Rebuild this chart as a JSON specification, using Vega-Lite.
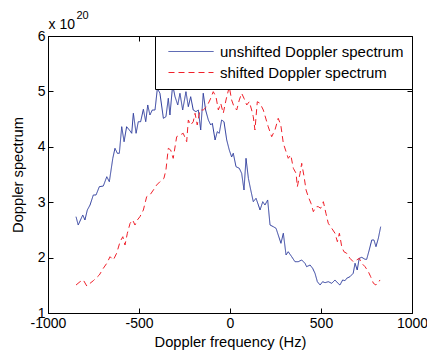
{
  "$schema": "https://vega.github.io/schema/vega-lite/v6.json",
  "width": 364,
  "height": 277,
  "autosize": "none",
  "padding": {"left": 48, "top": 36, "right": 15, "bottom": 43},
  "background": "white",
  "data": {
    "values": [
      {"f": -846, "v": 2.738, "s": "unshifted Doppler spectrum"},
      {"f": -834, "v": 2.588, "s": "unshifted Doppler spectrum"},
      {"f": -809, "v": 2.769, "s": "unshifted Doppler spectrum"},
      {"f": -797, "v": 2.679, "s": "unshifted Doppler spectrum"},
      {"f": -784, "v": 2.859, "s": "unshifted Doppler spectrum"},
      {"f": -769, "v": 2.949, "s": "unshifted Doppler spectrum"},
      {"f": -751, "v": 3.130, "s": "unshifted Doppler spectrum"},
      {"f": -736, "v": 3.130, "s": "unshifted Doppler spectrum"},
      {"f": -718, "v": 3.280, "s": "unshifted Doppler spectrum"},
      {"f": -696, "v": 3.292, "s": "unshifted Doppler spectrum"},
      {"f": -677, "v": 3.460, "s": "unshifted Doppler spectrum"},
      {"f": -663, "v": 3.370, "s": "unshifted Doppler spectrum"},
      {"f": -644, "v": 3.792, "s": "unshifted Doppler spectrum"},
      {"f": -632, "v": 3.973, "s": "unshifted Doppler spectrum"},
      {"f": -619, "v": 3.883, "s": "unshifted Doppler spectrum"},
      {"f": -608, "v": 3.883, "s": "unshifted Doppler spectrum"},
      {"f": -595, "v": 4.363, "s": "unshifted Doppler spectrum"},
      {"f": -582, "v": 4.092, "s": "unshifted Doppler spectrum"},
      {"f": -568, "v": 4.363, "s": "unshifted Doppler spectrum"},
      {"f": -553, "v": 4.303, "s": "unshifted Doppler spectrum"},
      {"f": -540, "v": 4.244, "s": "unshifted Doppler spectrum"},
      {"f": -531, "v": 4.605, "s": "unshifted Doppler spectrum"},
      {"f": -516, "v": 4.244, "s": "unshifted Doppler spectrum"},
      {"f": -504, "v": 4.453, "s": "unshifted Doppler spectrum"},
      {"f": -491, "v": 4.453, "s": "unshifted Doppler spectrum"},
      {"f": -476, "v": 4.677, "s": "unshifted Doppler spectrum"},
      {"f": -463, "v": 4.453, "s": "unshifted Doppler spectrum"},
      {"f": -452, "v": 4.755, "s": "unshifted Doppler spectrum"},
      {"f": -440, "v": 4.574, "s": "unshifted Doppler spectrum"},
      {"f": -427, "v": 4.664, "s": "unshifted Doppler spectrum"},
      {"f": -412, "v": 4.664, "s": "unshifted Doppler spectrum"},
      {"f": -399, "v": 5.056, "s": "unshifted Doppler spectrum"},
      {"f": -385, "v": 4.966, "s": "unshifted Doppler spectrum"},
      {"f": -366, "v": 4.514, "s": "unshifted Doppler spectrum"},
      {"f": -352, "v": 4.543, "s": "unshifted Doppler spectrum"},
      {"f": -339, "v": 4.875, "s": "unshifted Doppler spectrum"},
      {"f": -330, "v": 4.574, "s": "unshifted Doppler spectrum"},
      {"f": -315, "v": 5.116, "s": "unshifted Doppler spectrum"},
      {"f": -302, "v": 4.904, "s": "unshifted Doppler spectrum"},
      {"f": -287, "v": 4.755, "s": "unshifted Doppler spectrum"},
      {"f": -275, "v": 4.966, "s": "unshifted Doppler spectrum"},
      {"f": -260, "v": 4.664, "s": "unshifted Doppler spectrum"},
      {"f": -242, "v": 4.995, "s": "unshifted Doppler spectrum"},
      {"f": -229, "v": 4.724, "s": "unshifted Doppler spectrum"},
      {"f": -216, "v": 4.904, "s": "unshifted Doppler spectrum"},
      {"f": -202, "v": 4.664, "s": "unshifted Doppler spectrum"},
      {"f": -187, "v": 4.634, "s": "unshifted Doppler spectrum"},
      {"f": -174, "v": 4.664, "s": "unshifted Doppler spectrum"},
      {"f": -161, "v": 4.303, "s": "unshifted Doppler spectrum"},
      {"f": -147, "v": 4.966, "s": "unshifted Doppler spectrum"},
      {"f": -134, "v": 4.664, "s": "unshifted Doppler spectrum"},
      {"f": -119, "v": 4.484, "s": "unshifted Doppler spectrum"},
      {"f": -106, "v": 4.394, "s": "unshifted Doppler spectrum"},
      {"f": -97, "v": 4.424, "s": "unshifted Doppler spectrum"},
      {"f": -82, "v": 4.123, "s": "unshifted Doppler spectrum"},
      {"f": -70, "v": 4.273, "s": "unshifted Doppler spectrum"},
      {"f": -59, "v": 4.244, "s": "unshifted Doppler spectrum"},
      {"f": -46, "v": 4.484, "s": "unshifted Doppler spectrum"},
      {"f": -33, "v": 4.453, "s": "unshifted Doppler spectrum"},
      {"f": -18, "v": 4.123, "s": "unshifted Doppler spectrum"},
      {"f": -4, "v": 3.942, "s": "unshifted Doppler spectrum"},
      {"f": 9, "v": 3.816, "s": "unshifted Doppler spectrum"},
      {"f": 18, "v": 3.883, "s": "unshifted Doppler spectrum"},
      {"f": 33, "v": 3.641, "s": "unshifted Doppler spectrum"},
      {"f": 51, "v": 3.612, "s": "unshifted Doppler spectrum"},
      {"f": 64, "v": 3.522, "s": "unshifted Doppler spectrum"},
      {"f": 77, "v": 3.220, "s": "unshifted Doppler spectrum"},
      {"f": 88, "v": 3.792, "s": "unshifted Doppler spectrum"},
      {"f": 101, "v": 3.431, "s": "unshifted Doppler spectrum"},
      {"f": 114, "v": 3.220, "s": "unshifted Doppler spectrum"},
      {"f": 128, "v": 3.009, "s": "unshifted Doppler spectrum"},
      {"f": 143, "v": 3.070, "s": "unshifted Doppler spectrum"},
      {"f": 156, "v": 2.949, "s": "unshifted Doppler spectrum"},
      {"f": 165, "v": 2.859, "s": "unshifted Doppler spectrum"},
      {"f": 180, "v": 3.009, "s": "unshifted Doppler spectrum"},
      {"f": 192, "v": 2.949, "s": "unshifted Doppler spectrum"},
      {"f": 207, "v": 3.040, "s": "unshifted Doppler spectrum"},
      {"f": 220, "v": 2.588, "s": "unshifted Doppler spectrum"},
      {"f": 238, "v": 2.558, "s": "unshifted Doppler spectrum"},
      {"f": 253, "v": 2.529, "s": "unshifted Doppler spectrum"},
      {"f": 265, "v": 2.408, "s": "unshifted Doppler spectrum"},
      {"f": 280, "v": 2.258, "s": "unshifted Doppler spectrum"},
      {"f": 293, "v": 2.439, "s": "unshifted Doppler spectrum"},
      {"f": 308, "v": 2.047, "s": "unshifted Doppler spectrum"},
      {"f": 320, "v": 2.106, "s": "unshifted Doppler spectrum"},
      {"f": 339, "v": 2.016, "s": "unshifted Doppler spectrum"},
      {"f": 357, "v": 1.926, "s": "unshifted Doppler spectrum"},
      {"f": 375, "v": 1.926, "s": "unshifted Doppler spectrum"},
      {"f": 394, "v": 1.957, "s": "unshifted Doppler spectrum"},
      {"f": 412, "v": 1.897, "s": "unshifted Doppler spectrum"},
      {"f": 421, "v": 1.836, "s": "unshifted Doppler spectrum"},
      {"f": 440, "v": 1.866, "s": "unshifted Doppler spectrum"},
      {"f": 454, "v": 1.807, "s": "unshifted Doppler spectrum"},
      {"f": 467, "v": 1.717, "s": "unshifted Doppler spectrum"},
      {"f": 480, "v": 1.565, "s": "unshifted Doppler spectrum"},
      {"f": 495, "v": 1.505, "s": "unshifted Doppler spectrum"},
      {"f": 509, "v": 1.565, "s": "unshifted Doppler spectrum"},
      {"f": 522, "v": 1.547, "s": "unshifted Doppler spectrum"},
      {"f": 540, "v": 1.565, "s": "unshifted Doppler spectrum"},
      {"f": 559, "v": 1.536, "s": "unshifted Doppler spectrum"},
      {"f": 577, "v": 1.596, "s": "unshifted Doppler spectrum"},
      {"f": 590, "v": 1.547, "s": "unshifted Doppler spectrum"},
      {"f": 604, "v": 1.505, "s": "unshifted Doppler spectrum"},
      {"f": 619, "v": 1.596, "s": "unshifted Doppler spectrum"},
      {"f": 632, "v": 1.583, "s": "unshifted Doppler spectrum"},
      {"f": 641, "v": 1.626, "s": "unshifted Doppler spectrum"},
      {"f": 659, "v": 1.655, "s": "unshifted Doppler spectrum"},
      {"f": 677, "v": 1.717, "s": "unshifted Doppler spectrum"},
      {"f": 687, "v": 1.897, "s": "unshifted Doppler spectrum"},
      {"f": 699, "v": 1.776, "s": "unshifted Doppler spectrum"},
      {"f": 710, "v": 1.987, "s": "unshifted Doppler spectrum"},
      {"f": 724, "v": 2.005, "s": "unshifted Doppler spectrum"},
      {"f": 742, "v": 1.969, "s": "unshifted Doppler spectrum"},
      {"f": 751, "v": 1.969, "s": "unshifted Doppler spectrum"},
      {"f": 765, "v": 2.137, "s": "unshifted Doppler spectrum"},
      {"f": 779, "v": 2.318, "s": "unshifted Doppler spectrum"},
      {"f": 791, "v": 2.318, "s": "unshifted Doppler spectrum"},
      {"f": 802, "v": 2.197, "s": "unshifted Doppler spectrum"},
      {"f": 815, "v": 2.348, "s": "unshifted Doppler spectrum"},
      {"f": 828, "v": 2.558, "s": "unshifted Doppler spectrum"},

      {"f": -846, "v": 1.505, "s": "shifted Doppler spectrum"},
      {"f": -824, "v": 1.565, "s": "shifted Doppler spectrum"},
      {"f": -806, "v": 1.596, "s": "shifted Doppler spectrum"},
      {"f": -787, "v": 1.487, "s": "shifted Doppler spectrum"},
      {"f": -769, "v": 1.536, "s": "shifted Doppler spectrum"},
      {"f": -751, "v": 1.583, "s": "shifted Doppler spectrum"},
      {"f": -718, "v": 1.686, "s": "shifted Doppler spectrum"},
      {"f": -696, "v": 1.807, "s": "shifted Doppler spectrum"},
      {"f": -677, "v": 1.897, "s": "shifted Doppler spectrum"},
      {"f": -659, "v": 2.016, "s": "shifted Doppler spectrum"},
      {"f": -641, "v": 1.957, "s": "shifted Doppler spectrum"},
      {"f": -623, "v": 2.078, "s": "shifted Doppler spectrum"},
      {"f": -604, "v": 2.287, "s": "shifted Doppler spectrum"},
      {"f": -589, "v": 2.377, "s": "shifted Doppler spectrum"},
      {"f": -577, "v": 2.227, "s": "shifted Doppler spectrum"},
      {"f": -564, "v": 2.439, "s": "shifted Doppler spectrum"},
      {"f": -549, "v": 2.619, "s": "shifted Doppler spectrum"},
      {"f": -535, "v": 2.679, "s": "shifted Doppler spectrum"},
      {"f": -522, "v": 2.588, "s": "shifted Doppler spectrum"},
      {"f": -509, "v": 2.679, "s": "shifted Doppler spectrum"},
      {"f": -495, "v": 2.738, "s": "shifted Doppler spectrum"},
      {"f": -476, "v": 2.859, "s": "shifted Doppler spectrum"},
      {"f": -458, "v": 3.099, "s": "shifted Doppler spectrum"},
      {"f": -440, "v": 3.130, "s": "shifted Doppler spectrum"},
      {"f": -421, "v": 3.220, "s": "shifted Doppler spectrum"},
      {"f": -403, "v": 3.310, "s": "shifted Doppler spectrum"},
      {"f": -385, "v": 3.370, "s": "shifted Doppler spectrum"},
      {"f": -363, "v": 3.431, "s": "shifted Doppler spectrum"},
      {"f": -352, "v": 3.581, "s": "shifted Doppler spectrum"},
      {"f": -339, "v": 3.973, "s": "shifted Doppler spectrum"},
      {"f": -326, "v": 3.942, "s": "shifted Doppler spectrum"},
      {"f": -312, "v": 3.792, "s": "shifted Doppler spectrum"},
      {"f": -293, "v": 4.182, "s": "shifted Doppler spectrum"},
      {"f": -275, "v": 4.213, "s": "shifted Doppler spectrum"},
      {"f": -257, "v": 4.244, "s": "shifted Doppler spectrum"},
      {"f": -238, "v": 4.092, "s": "shifted Doppler spectrum"},
      {"f": -229, "v": 4.484, "s": "shifted Doppler spectrum"},
      {"f": -216, "v": 4.394, "s": "shifted Doppler spectrum"},
      {"f": -202, "v": 4.453, "s": "shifted Doppler spectrum"},
      {"f": -192, "v": 4.605, "s": "shifted Doppler spectrum"},
      {"f": -180, "v": 4.394, "s": "shifted Doppler spectrum"},
      {"f": -165, "v": 4.664, "s": "shifted Doppler spectrum"},
      {"f": -147, "v": 4.664, "s": "shifted Doppler spectrum"},
      {"f": -128, "v": 4.724, "s": "shifted Doppler spectrum"},
      {"f": -110, "v": 4.845, "s": "shifted Doppler spectrum"},
      {"f": -92, "v": 4.995, "s": "shifted Doppler spectrum"},
      {"f": -77, "v": 4.904, "s": "shifted Doppler spectrum"},
      {"f": -64, "v": 4.664, "s": "shifted Doppler spectrum"},
      {"f": -51, "v": 4.785, "s": "shifted Doppler spectrum"},
      {"f": -37, "v": 4.605, "s": "shifted Doppler spectrum"},
      {"f": -22, "v": 4.845, "s": "shifted Doppler spectrum"},
      {"f": -4, "v": 5.085, "s": "shifted Doppler spectrum"},
      {"f": 9, "v": 4.845, "s": "shifted Doppler spectrum"},
      {"f": 22, "v": 4.724, "s": "shifted Doppler spectrum"},
      {"f": 37, "v": 4.664, "s": "shifted Doppler spectrum"},
      {"f": 51, "v": 4.845, "s": "shifted Doppler spectrum"},
      {"f": 64, "v": 4.966, "s": "shifted Doppler spectrum"},
      {"f": 77, "v": 4.875, "s": "shifted Doppler spectrum"},
      {"f": 92, "v": 4.755, "s": "shifted Doppler spectrum"},
      {"f": 106, "v": 4.814, "s": "shifted Doppler spectrum"},
      {"f": 119, "v": 4.664, "s": "shifted Doppler spectrum"},
      {"f": 128, "v": 4.543, "s": "shifted Doppler spectrum"},
      {"f": 137, "v": 4.303, "s": "shifted Doppler spectrum"},
      {"f": 150, "v": 4.814, "s": "shifted Doppler spectrum"},
      {"f": 165, "v": 4.785, "s": "shifted Doppler spectrum"},
      {"f": 183, "v": 4.664, "s": "shifted Doppler spectrum"},
      {"f": 210, "v": 4.363, "s": "shifted Doppler spectrum"},
      {"f": 229, "v": 4.182, "s": "shifted Doppler spectrum"},
      {"f": 247, "v": 4.303, "s": "shifted Doppler spectrum"},
      {"f": 265, "v": 4.514, "s": "shifted Doppler spectrum"},
      {"f": 279, "v": 4.394, "s": "shifted Doppler spectrum"},
      {"f": 293, "v": 4.063, "s": "shifted Doppler spectrum"},
      {"f": 308, "v": 3.912, "s": "shifted Doppler spectrum"},
      {"f": 320, "v": 3.792, "s": "shifted Doppler spectrum"},
      {"f": 334, "v": 3.852, "s": "shifted Doppler spectrum"},
      {"f": 348, "v": 3.612, "s": "shifted Doppler spectrum"},
      {"f": 363, "v": 3.522, "s": "shifted Doppler spectrum"},
      {"f": 370, "v": 3.280, "s": "shifted Doppler spectrum"},
      {"f": 385, "v": 3.522, "s": "shifted Doppler spectrum"},
      {"f": 394, "v": 3.702, "s": "shifted Doppler spectrum"},
      {"f": 407, "v": 3.460, "s": "shifted Doppler spectrum"},
      {"f": 418, "v": 3.220, "s": "shifted Doppler spectrum"},
      {"f": 430, "v": 3.099, "s": "shifted Doppler spectrum"},
      {"f": 445, "v": 2.980, "s": "shifted Doppler spectrum"},
      {"f": 458, "v": 2.829, "s": "shifted Doppler spectrum"},
      {"f": 473, "v": 2.919, "s": "shifted Doppler spectrum"},
      {"f": 485, "v": 2.919, "s": "shifted Doppler spectrum"},
      {"f": 498, "v": 2.890, "s": "shifted Doppler spectrum"},
      {"f": 513, "v": 3.009, "s": "shifted Doppler spectrum"},
      {"f": 527, "v": 2.800, "s": "shifted Doppler spectrum"},
      {"f": 540, "v": 2.619, "s": "shifted Doppler spectrum"},
      {"f": 559, "v": 2.529, "s": "shifted Doppler spectrum"},
      {"f": 577, "v": 2.439, "s": "shifted Doppler spectrum"},
      {"f": 590, "v": 2.287, "s": "shifted Doppler spectrum"},
      {"f": 601, "v": 2.439, "s": "shifted Doppler spectrum"},
      {"f": 614, "v": 2.197, "s": "shifted Doppler spectrum"},
      {"f": 626, "v": 2.106, "s": "shifted Doppler spectrum"},
      {"f": 641, "v": 2.078, "s": "shifted Doppler spectrum"},
      {"f": 659, "v": 1.987, "s": "shifted Doppler spectrum"},
      {"f": 677, "v": 1.926, "s": "shifted Doppler spectrum"},
      {"f": 696, "v": 1.957, "s": "shifted Doppler spectrum"},
      {"f": 710, "v": 1.987, "s": "shifted Doppler spectrum"},
      {"f": 724, "v": 1.897, "s": "shifted Doppler spectrum"},
      {"f": 742, "v": 1.836, "s": "shifted Doppler spectrum"},
      {"f": 760, "v": 1.746, "s": "shifted Doppler spectrum"},
      {"f": 773, "v": 1.655, "s": "shifted Doppler spectrum"},
      {"f": 788, "v": 1.536, "s": "shifted Doppler spectrum"},
      {"f": 802, "v": 1.505, "s": "shifted Doppler spectrum"},
      {"f": 815, "v": 1.547, "s": "shifted Doppler spectrum"},
      {"f": 824, "v": 1.596, "s": "shifted Doppler spectrum"}
    ]
  },
  "layer": [
    {
      "mark": {"type": "line", "strokeWidth": 1, "clip": true},
      "encoding": {
        "x": {
          "field": "f",
          "type": "quantitative",
          "scale": {"domain": [-1000, 1000], "nice": false, "zero": false},
          "axis": {
            "orient": "bottom",
            "values": [-1000, -500, 0, 500, 1000],
            "labelExpr": "datum.value + ''",
            "title": "Doppler frequency (Hz)",
            "titlePadding": 4
          }
        },
        "y": {
          "field": "v",
          "type": "quantitative",
          "scale": {"domain": [1, 6], "nice": false, "zero": false},
          "axis": {
            "orient": "left",
            "values": [1, 2, 3, 4, 5, 6],
            "title": "Doppler spectrum",
            "titlePadding": 12
          }
        },
        "color": {
          "field": "s",
          "type": "nominal",
          "title": null,
          "scale": {
            "domain": ["unshifted Doppler spectrum", "shifted Doppler spectrum"],
            "range": ["#2b3a9c", "#f0202a"]
          }
        },
        "strokeDash": {
          "field": "s",
          "type": "nominal",
          "title": null,
          "scale": {
            "domain": ["unshifted Doppler spectrum", "shifted Doppler spectrum"],
            "range": [[1, 0], [6, 4]]
          }
        }
      }
    },
    {
      "mark": {"type": "line", "strokeOpacity": 0},
      "encoding": {
        "x": {
          "field": "f",
          "type": "quantitative",
          "axis": {
            "orient": "top",
            "values": [-1000, -500, 0, 500, 1000],
            "labels": false,
            "domain": false,
            "title": "x 10",
            "titleX": 0,
            "titleY": -8,
            "titleAlign": "left",
            "titleBaseline": "alphabetic",
            "titleAngle": 0,
            "titleFontSize": 14
          }
        },
        "y": {
          "field": "v",
          "type": "quantitative",
          "axis": {"orient": "right", "values": [1, 2, 3, 4, 5, 6], "labels": false, "title": null, "domain": false}
        },
        "detail": {"field": "s", "type": "nominal"}
      }
    },
    {
      "mark": {"type": "line", "strokeOpacity": 0},
      "encoding": {
        "x": {
          "field": "f",
          "type": "quantitative",
          "axis": {
            "orient": "top",
            "ticks": false,
            "labels": false,
            "domain": false,
            "title": "20",
            "titleX": 28,
            "titleY": -17.5,
            "titleAlign": "left",
            "titleBaseline": "alphabetic",
            "titleAngle": 0,
            "titleFontSize": 11
          }
        },
        "y": {"field": "v", "type": "quantitative", "axis": null},
        "detail": {"field": "s", "type": "nominal"}
      }
    }
  ],
  "config": {
    "view": {"stroke": "black", "strokeWidth": 1},
    "font": "Liberation Sans",
    "axis": {
      "grid": false,
      "domainColor": "black",
      "tickColor": "black",
      "tickSize": -5,
      "labelColor": "black",
      "labelFont": "Liberation Sans",
      "labelFontSize": 14,
      "labelPadding": 8,
      "titleFont": "Liberation Sans",
      "titleFontSize": 14.7,
      "titleFontWeight": "normal",
      "titleColor": "black",
      "labelFlush": false,
      "labelOverlap": false
    },
    "legend": {
      "orient": "top-right",
      "offset": 0,
      "strokeColor": "black",
      "fillColor": "white",
      "padding": 8,
      "cornerRadius": 0,
      "symbolType": "M0,0H9",
      "symbolSize": 100,
      "symbolStrokeWidth": 1,
      "symbolOffset": -2,
      "labelFont": "Liberation Sans",
      "labelFontSize": 15,
      "labelColor": "black",
      "labelLimit": 300,
      "labelOffset": 44,
      "rowPadding": 5
    }
  }
}
